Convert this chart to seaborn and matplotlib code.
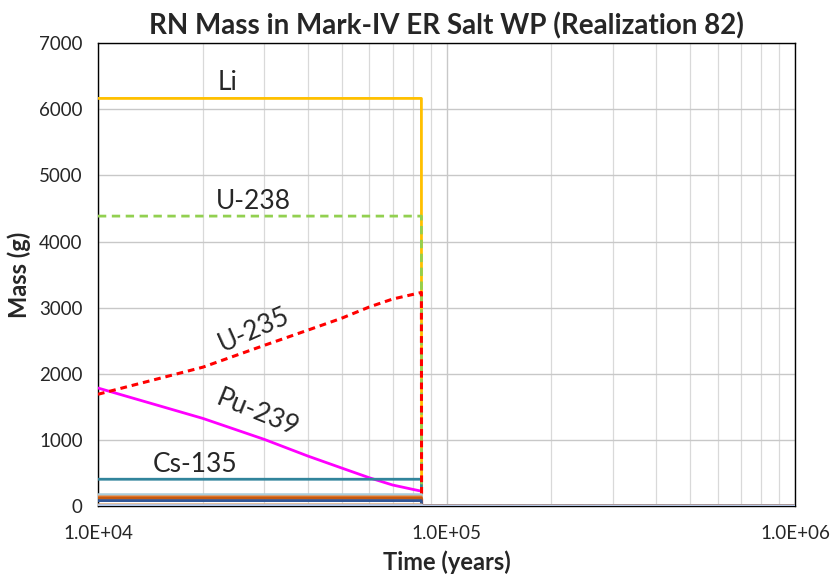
import numpy as np
import pandas as pd
import matplotlib
matplotlib.use("Agg")
import matplotlib.pyplot as plt
import seaborn as sns
from matplotlib.ticker import LogLocator, MultipleLocator, FuncFormatter

# time (years), release at ~84,700 yr drops everything to zero
time = [1e4, 2e4, 3e4, 4e4, 5e4, 6e4, 7e4, 8e4, 8.47e4, 8.48e4, 1e5, 1e6]

li = [6165, 6165, 6165, 6165, 6165, 6165, 6165, 6165, 6165, 0, 0, 0]
u238 = [4385, 4385, 4385, 4385, 4385, 4385, 4385, 4385, 4385, 0, 0, 0]
u235 = [1690, 2100, 2430, 2660, 2840, 3010, 3130, 3200, 3230, 0, 0, 0]
pu239 = [1785, 1325, 1008, 756, 575, 428, 318, 252, 225, 0, 0, 0]
cs135 = [405, 405, 405, 405, 405, 405, 405, 405, 405, 0, 0, 0]
other_a = [170, 170, 170, 170, 170, 170, 170, 170, 170, 0, 0, 0]
other_b = [140, 140, 140, 140, 140, 140, 140, 140, 140, 0, 0, 0]
other_c = [118, 118, 118, 118, 118, 118, 118, 118, 118, 0, 0, 0]
other_d = [82, 82, 82, 82, 82, 82, 82, 82, 82, 0, 0, 0]
other_e = [20, 20, 20, 20, 20, 20, 20, 20, 20, 0, 0, 0]
other_f = [8, 8, 8, 8, 8, 8, 8, 8, 8, 0, 0, 0]


def main():
    sns.set_style("white")
    plt.rcParams['font.family'] = ['Lato', 'DejaVu Sans']

    fig = plt.figure(figsize=(8.3, 5.76), dpi=100)
    ax = fig.add_axes([0.118, 0.1215, 0.840, 0.8035])

    # (values, colour, style, width, zorder)
    series = [
        (li, "#FFC000", "-", 2.0, 3),
        (u238, "#92D050", (0, (3, 2)), 2.0, 4),
        (u235, "#FF0000", (0, (2.2, 1.6)), 2.2, 5),
        (pu239, "#FF00FF", "-", 2.0, 3),
        (cs135, "#31849B", "-", 2.0, 3),
        (other_a, "#A9CCDA", "-", 2.2, 6),
        (other_b, "#ED7D31", "-", 1.8, 6),
        (other_c, "#C55A11", "-", 2.2, 6),
        (other_d, "#2F5597", "-", 2.0, 6),
        (other_e, "#D6A77A", "-", 2.0, 6),
        (other_f, "#B4C7E7", "-", 2.0, 7),
    ]
    for vals, color, ls, lw, z in series:
        df = pd.DataFrame({"time": time, "mass": vals})
        sns.lineplot(data=df, x="time", y="mass", ax=ax, color=color,
                     linestyle=ls, linewidth=lw, estimator=None, sort=False,
                     zorder=z)

    ax.set_xscale("log")
    ax.set_xlim(1e4, 1e6)
    ax.set_ylim(0, 7000)

    ax.xaxis.set_major_locator(LogLocator(base=10, numticks=5))
    ax.xaxis.set_minor_locator(LogLocator(base=10, subs=np.arange(2, 10), numticks=20))
    ax.xaxis.set_major_formatter(FuncFormatter(lambda v, p: f"{v:.1E}"))
    ax.xaxis.set_minor_formatter(FuncFormatter(lambda v, p: ""))
    ax.yaxis.set_major_locator(MultipleLocator(1000))
    ax.yaxis.set_minor_locator(MultipleLocator(200))

    ax.grid(True, which="major", color="#C8C8C8", linewidth=1.0)
    ax.grid(True, which="minor", axis="x", color="#D9D9D9", linewidth=0.9)
    ax.set_axisbelow(True)

    for s in ax.spines.values():
        s.set_color("black")
        s.set_linewidth(1.0)

    ax.tick_params(axis="both", which="major", direction="out", length=5,
                   width=1, color="#555555", labelsize=13.5, pad=6)
    ax.tick_params(axis="both", which="minor", direction="in", length=4,
                   width=1, color="#555555")
    ax.tick_params(axis="x", which="major", pad=9)

    ax.set_xlabel("Time (years)", fontsize=17, fontweight="bold", labelpad=6)
    ax.set_ylabel("Mass (g)", fontsize=17, fontweight="bold", labelpad=6)
    ax.set_title("RN Mass in Mark-IV ER Salt WP (Realization 82)",
                 fontsize=20, fontweight="bold", pad=6)

    ax.text(2.35e4, 6400, "Li", fontsize=19, ha="center", va="center")
    ax.text(2.8e4, 4600, "U-238", fontsize=19, ha="center", va="center")
    ax.text(2.8e4, 2660, "U-235", fontsize=19, ha="center", va="center", rotation=24)
    ax.text(2.87e4, 1400, "Pu-239", fontsize=19, ha="center", va="center", rotation=-22)
    ax.text(1.9e4, 635, "Cs-135", fontsize=19, ha="center", va="center")

    fig.savefig("out.png", dpi=100)
    plt.close(fig)


if __name__ == "__main__":
    main()
